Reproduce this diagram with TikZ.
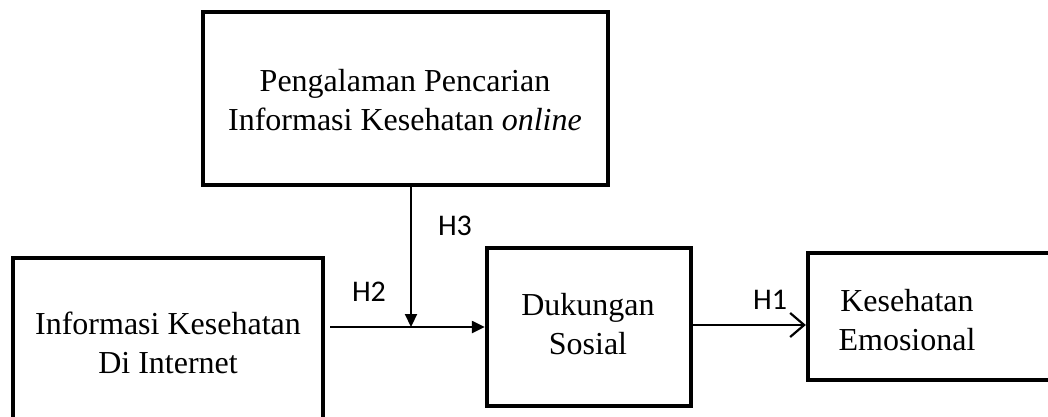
\documentclass[tikz,border=0pt]{standalone}
\usepackage{fontspec}
\setmainfont{Liberation Serif}
\newfontfamily\hfont{Carlito}
\usetikzlibrary{arrows.meta}
\begin{document}
\begin{tikzpicture}[x=1pt,y=-1pt,
  box/.style={draw,line width=4.3pt,rectangle,inner sep=0pt},
  lbl/.style={align=center,font=\fontsize{32}{39}\selectfont,inner sep=0pt},
  hyp/.style={font=\hfont\fontsize{30}{34}\selectfont,inner sep=0pt},
  arr/.style={line width=2.2pt,-{Triangle[length=13pt,width=12pt]}},
  arrO/.style={line width=2.2pt,-{Straight Barb[length=14pt,width=24pt,line width=2.2pt]}}]
\useasboundingbox (0,0) rectangle (1048,417);
% boxes
\node[box,minimum width=405pt,minimum height=173pt] (tb) at (405.5,98.5) {};
\node[box,minimum width=310pt,minimum height=200pt] (lb) at (168,358) {};
\node[box,minimum width=204pt,minimum height=158pt] (mb) at (589,327) {};
\node[box,minimum width=260pt,minimum height=127pt] (rb) at (938,316.5) {};
% texts
\node[lbl] (tt) at (405,100) {Pengalaman Pencarian\\Informasi Kesehatan \textit{online}};
\node[lbl] (lt) at (168,343) {Informasi Kesehatan\\Di Internet};
\node[lbl] (mt) at (588,324) {Dukungan\\Sosial};
\node[lbl] (rt) at (907,320) {Kesehatan\\Emosional};
% hypothesis labels
\node[hyp] (h3) at (455,226) {H3};
\node[hyp] (h2) at (369,292) {H2};
\node[hyp] (h1) at (770,300) {H1};
% connectors
\coordinate (j) at (411,327);
\draw[arr,shorten <=5pt] (lb.east |- j) -- (mb.west |- j);
\draw[arr] (tb.south -| j) -- (j);
\draw[arrO] (mb.east |- 0,325) -- (rb.west |- 0,325);
\end{tikzpicture}
\end{document}
